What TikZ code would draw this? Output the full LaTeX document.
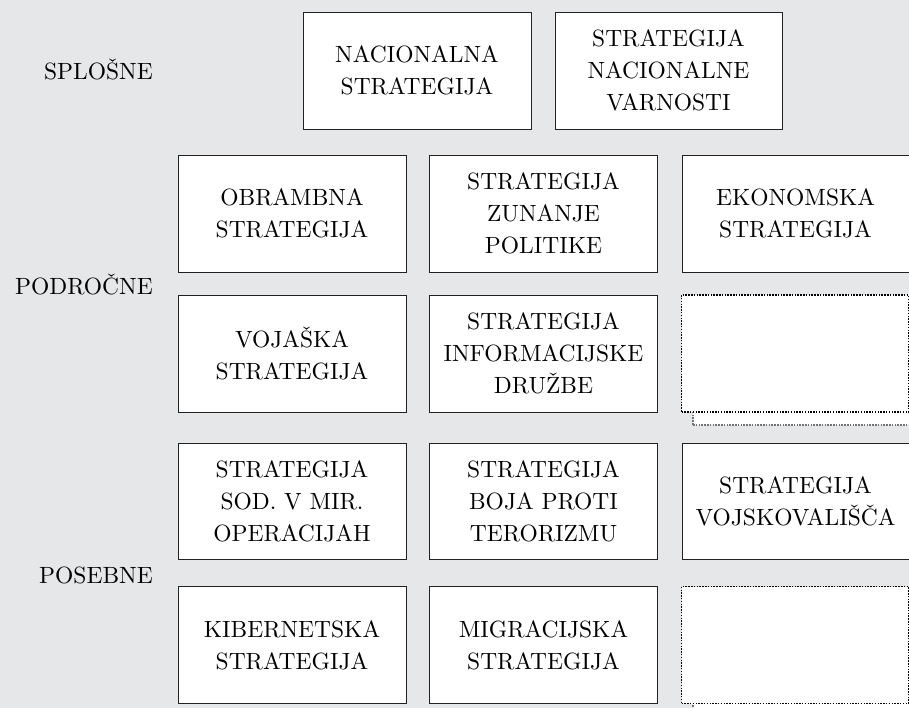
\documentclass[tikz,border=0pt]{standalone}
\usepackage{fontspec}
\setmainfont{lmroman10-regular}[Extension=.otf]
\definecolor{bggray}{HTML}{E6E7E8}
\definecolor{boxline}{HTML}{222222}
\tikzset{
  strat/.style={draw=boxline, line width=0.9pt, fill=white, rectangle,
    minimum width=228pt, minimum height=117pt, inner sep=0pt,
    align=center, font=\fontsize{23.5}{32}\selectfont},
  emptybox/.style={draw=black, line width=1.1pt, dash pattern=on 1.5pt off 1.3pt,
    fill=white, rectangle, minimum width=227pt, minimum height=117pt, inner sep=0pt},
  backbox/.style={draw=black!55, line width=1.1pt, dash pattern=on 1.5pt off 1.3pt,
    fill=white, rectangle, minimum width=227pt, minimum height=117pt, inner sep=0pt},
  level/.style={anchor=east, inner sep=0pt, font=\fontsize{23.5}{32}\selectfont}
}
\begin{document}
\begin{tikzpicture}[x=1pt, y=-1pt]
\useasboundingbox (0,0) rectangle (909,708);
\clip (0,0) rectangle (909,708);
\fill[bggray] (0,0) rectangle (909,708);

% level labels
\node[level] (splosne) at (153,70) {SPLOŠNE};
\node[level] (podrocne) at (153,285) {PODROČNE};
\node[level] (posebne) at (153,575) {POSEBNE};

% top row
\node[strat] (nac) at (417,70.5) {NACIONALNA\\STRATEGIJA};
\node[strat, minimum width=227pt] (snv) at (668.5,70.5) {STRATEGIJA\\NACIONALNE\\VARNOSTI};

% row 1
\node[strat] (obr) at (292,213.5) {OBRAMBNA\\STRATEGIJA};
\node[strat] (zun) at (543.5,213.5) {STRATEGIJA\\ZUNANJE\\POLITIKE};
\node[strat, minimum width=227pt] (eko) at (795.5,213.5) {EKONOMSKA\\STRATEGIJA};

% row 2
\node[strat] (voj) at (292,353.5) {VOJAŠKA\\STRATEGIJA};
\node[strat] (inf) at (543.5,353.5) {STRATEGIJA\\INFORMACIJSKE\\DRUŽBE};
\node[backbox] (back2) at (806.5,366.5) {};
\node[emptybox] (empty2) at (795,353.5) {};

% row 3
\node[strat, minimum height=116pt] (sod) at (292,501) {STRATEGIJA\\SOD. V MIR.\\OPERACIJAH};
\node[strat, minimum height=116pt] (ter) at (543.5,501) {STRATEGIJA\\BOJA PROTI\\TERORIZMU};
\node[strat, minimum height=116pt, minimum width=227pt] (vojs) at (795.5,501) {STRATEGIJA\\VOJSKOVALIŠČA};

% row 4
\node[strat] (kib) at (292,645) {KIBERNETSKA\\STRATEGIJA};
\node[strat] (mig) at (543.5,645) {MIGRACIJSKA\\STRATEGIJA};
\node[backbox] (back4) at (806.5,660) {};
\node[emptybox] (empty4) at (795,645) {};
\end{tikzpicture}
\end{document}
